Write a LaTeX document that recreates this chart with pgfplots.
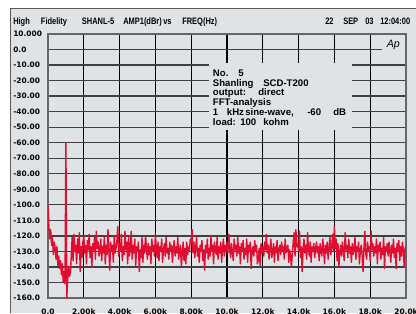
\documentclass[border=0pt]{standalone}
\usepackage{fontspec}
\setmainfont{Liberation Sans}
\newfontfamily\tickfont{DejaVu Sans}
\newfontfamily\titlefont{Liberation Sans}[FakeStretch=0.8]
\usepackage{pgfplots}
\pgfplotsset{compat=1.18}
\definecolor{bgc}{RGB}{224,227,230}
\definecolor{trace}{RGB}{225,12,48}
\begin{document}
\begin{tikzpicture}
\useasboundingbox (0,0) rectangle (312pt,-234.75pt);
\clip (0,0) rectangle (312pt,-234.75pt);
\begin{scope}[x=0.75pt,y=-0.75pt]
\fill[white] (0,0) rectangle (416,313);
\fill[bgc] (10,9) rectangle (416,313);
\draw[black!65, line width=0.75pt] (10,313) -- (10,9) -- (416,9);
\tikzset{tt/.style={anchor=base west, inner sep=0pt, font=\titlefont\bfseries\fontsize{7}{8}\selectfont}}
\node[tt] at (13,25) {High};
\node[tt] at (40.7,25) {Fidelity};
\node[tt] at (81.7,25) {SHANL-5};
\node[tt] at (123,25) {AMP1(dBr)};
\node[tt] at (163,25) {vs};
\node[tt] at (182,25) {FREQ(Hz)};
\node[tt] at (325,25) {22};
\node[tt] at (343,25) {SEP};
\node[tt] at (365,25) {03};
\node[tt] at (380,25) {12:04:00};
\end{scope}
\begin{axis}[
 at={(36pt,-223.5pt)}, anchor=south west, scale only axis,
 width=268.5pt, height=198pt,
 xmin=0, xmax=20000, ymin=-160, ymax=10,
 xtick={0,2000,...,20000},
 xticklabels={0.0,2.00k,4.00k,6.00k,8.00k,10.0k,12.0k,14.0k,16.0k,18.0k,20.0k},
 ytick={10,0,-10,-20,-30,-40,-50,-60,-70,-80,-90,-100,-110,-120,-130,-140,-150,-160},
 yticklabels={10.000,0.0,-10.00,-20.00,-30.00,-40.00,-50.00,-60.00,-70.00,-80.00,-90.00,-100.0,-110.0,-120.0,-130.0,-140.0,-150.0,-160.0},
 major tick length=0pt,
 grid=major,
 x grid style={black, line width=0.8pt},
 y grid style={black!75, line width=1pt},
 axis line style={draw=black!60, line width=1.2pt},
 axis background/.style={fill=bgc},
 tick label style={font=\tickfont\bfseries\fontsize{5.6}{6}\selectfont, inner sep=0pt},
 yticklabel style={anchor=west, xshift=-26.25pt},
 xticklabel style={anchor=north, yshift=-8.25pt},
 scaled x ticks=false,
]
\addplot[trace, line width=1.05pt, line join=round, mark=none] coordinates {
(0,-100)(50,-114)(100,-122)(150,-116)(200,-126)(250,-121)(300,-132)(350,-124)(400,-128)(450,-135)
(500,-127)(550,-139)(600,-133)(650,-141)(700,-136)(750,-145)(800,-138)(850,-150)(900,-143)(950,-151)
(1000,-60)(1050,-160)(1100,-148)(1150,-140)(1200,-146)(1250,-144)(1300,-133)(1350,-121)(1400,-136)(1450,-119)
(1500,-130)(1550,-126)(1600,-138)(1650,-122)(1700,-131)(1750,-118)(1800,-143)(1850,-127)(1900,-134)(1950,-124)
(2000,-120)(2050,-131)(2100,-126)(2150,-138)(2200,-123)(2250,-129)(2300,-119)(2350,-134)(2400,-127)(2450,-140)
(2500,-125)(2550,-130)(2600,-121)(2650,-135)(2700,-117)(2750,-128)(2800,-124)(2850,-133)(2900,-129)(2950,-122)
(3000,-136)(3050,-127)(3100,-131)(3150,-120)(3200,-138)(3250,-126)(3300,-132)(3350,-116)(3400,-129)(3450,-142)
(3500,-124)(3550,-130)(3600,-126)(3650,-137)(3700,-120)(3750,-131)(3800,-128)(3850,-123)(3900,-114)(3950,-133)
(4000,-125)(4050,-130)(4100,-119)(4150,-136)(4200,-127)(4250,-132)(4300,-117)(4350,-129)(4400,-124)(4450,-138)
(4500,-121)(4550,-133)(4600,-128)(4650,-117)(4700,-135)(4750,-126)(4800,-131)(4850,-122)(4900,-139)(4950,-127)
(5000,-130)(5050,-124)(5100,-143)(5150,-129)(5200,-134)(5250,-121)(5300,-137)(5350,-126)(5400,-131)(5450,-120)
(5500,-128)(5550,-135)(5600,-125)(5650,-132)(5700,-127)(5750,-138)(5800,-122)(5850,-130)(5900,-126)(5950,-133)
(6000,-119)(6050,-128)(6100,-134)(6150,-124)(6200,-136)(6250,-127)(6300,-130)(6350,-122)(6400,-137)(6450,-129)
(6500,-125)(6550,-133)(6600,-121)(6650,-131)(6700,-128)(6750,-135)(6800,-124)(6850,-130)(6900,-126)(6950,-137)
(7000,-128)(7050,-123)(7100,-133)(7150,-127)(7200,-131)(7250,-121)(7300,-135)(7350,-129)(7400,-126)(7450,-140)
(7500,-131)(7550,-124)(7600,-136)(7650,-128)(7700,-138)(7750,-124)(7800,-132)(7850,-127)(7900,-130)(7950,-122)
(8000,-125)(8050,-116)(8100,-131)(8150,-124)(8200,-134)(8250,-127)(8300,-121)(8350,-133)(8400,-128)(8450,-137)
(8500,-126)(8550,-130)(8600,-123)(8650,-136)(8700,-129)(8750,-142)(8800,-126)(8850,-131)(8900,-122)(8950,-135)
(9000,-128)(9050,-133)(9100,-120)(9150,-130)(9200,-126)(9250,-138)(9300,-124)(9350,-129)(9400,-132)(9450,-121)
(9500,-135)(9550,-127)(9600,-131)(9650,-124)(9700,-137)(9750,-128)(9800,-122)(9850,-133)(9900,-126)(9950,-130)
(10000,-124)(10050,-131)(10100,-119)(10150,-128)(10200,-134)(10250,-125)(10300,-130)(10350,-136)(10400,-122)(10450,-129)
(10500,-126)(10550,-133)(10600,-121)(10650,-131)(10700,-127)(10750,-138)(10800,-125)(10850,-130)(10900,-123)(10950,-135)
(11000,-128)(11050,-132)(11100,-122)(11150,-137)(11200,-126)(11250,-130)(11300,-124)(11350,-141)(11400,-129)(11450,-127)
(11500,-133)(11550,-123)(11600,-130)(11650,-126)(11700,-138)(11750,-135)(11800,-128)(11850,-139)(11900,-125)(11950,-131)
(12000,-127)(12050,-133)(12100,-124)(12150,-129)(12200,-119)(12250,-131)(12300,-126)(12350,-135)(12400,-128)(12450,-122)
(12500,-134)(12550,-130)(12600,-125)(12650,-137)(12700,-127)(12750,-131)(12800,-123)(12850,-136)(12900,-129)(12950,-126)
(13000,-132)(13050,-124)(13100,-130)(13150,-127)(13200,-135)(13250,-122)(13300,-131)(13350,-128)(13400,-126)(13450,-137)
(13500,-129)(13550,-133)(13600,-140)(13650,-131)(13700,-124)(13750,-118)(13800,-133)(13850,-116)(13900,-127)(13950,-125)
(14000,-130)(14050,-117)(14100,-134)(14150,-127)(14200,-143)(14250,-129)(14300,-122)(14350,-131)(14400,-126)(14450,-135)
(14500,-118)(14550,-128)(14600,-133)(14650,-124)(14700,-137)(14750,-127)(14800,-130)(14850,-125)(14900,-134)(14950,-128)
(15000,-124)(15050,-131)(15100,-127)(15150,-136)(15200,-125)(15250,-130)(15300,-133)(15350,-122)(15400,-129)(15450,-138)
(15500,-126)(15550,-131)(15600,-124)(15650,-135)(15700,-128)(15750,-121)(15800,-132)(15850,-127)(15900,-119)(15950,-130)
(16000,-114)(16050,-128)(16100,-122)(16150,-136)(16200,-125)(16250,-140)(16300,-130)(16350,-126)(16400,-133)(16450,-124)
(16500,-130)(16550,-136)(16600,-118)(16650,-129)(16700,-126)(16750,-134)(16800,-122)(16850,-131)(16900,-127)(16950,-137)
(17000,-125)(17050,-132)(17100,-128)(17150,-121)(17200,-135)(17250,-127)(17300,-130)(17350,-124)(17400,-138)(17450,-129)
(17500,-126)(17550,-133)(17600,-143)(17650,-128)(17700,-117)(17750,-131)(17800,-135)(17850,-124)(17900,-130)(17950,-127)
(18000,-136)(18050,-117)(18100,-129)(18150,-125)(18200,-133)(18250,-127)(18300,-131)(18350,-122)(18400,-138)(18450,-126)
(18500,-130)(18550,-124)(18600,-135)(18650,-128)(18700,-132)(18750,-121)(18800,-141)(18850,-127)(18900,-130)(18950,-125)
(19000,-133)(19050,-124)(19100,-129)(19150,-137)(19200,-126)(19250,-131)(19300,-122)(19350,-134)(19400,-128)(19450,-141)
(19500,-125)(19550,-130)(19600,-123)(19650,-136)(19700,-127)(19750,-133)(19800,-124)(19850,-129)(19900,-140)(19950,-128)
(20000,-127)
};
\end{axis}
\begin{scope}[x=0.75pt,y=-0.75pt]
\fill[bgc] (209.3,63) rectangle (351.7,130);
\fill[bgc] (382,35.5) rectangle (405.3,58);
\node[anchor=base west, inner sep=0pt, font=\itshape\fontsize{8}{9}\selectfont] at (386.5,47.5) {Ap};
\tikzset{bt/.style={anchor=base west, inner sep=0pt, font=\bfseries\fontsize{7.2}{8}\selectfont}}
\node[bt] at (212.7,76.5) {No.};
\node[bt] at (238,76.5) {5};
\node[bt] at (212.7,86.2) {Shanling};
\node[bt] at (263,86.2) {SCD-T200};
\node[bt] at (212.7,96) {output:};
\node[bt] at (258,96) {direct};
\node[bt] at (212.7,106) {FFT-analysis};
\node[bt] at (212.7,115.8) {1};
\node[bt] at (226.7,115.8) {kHz};
\node[bt] at (245,115.8) {sine-wave,};
\node[bt] at (307,115.8) {-60};
\node[bt] at (333,115.8) {dB};
\node[bt] at (212.7,125.7) {load:};
\node[bt] at (240,125.7) {100};
\node[bt] at (263,125.7) {kohm};
\end{scope}
\end{tikzpicture}
\end{document}
